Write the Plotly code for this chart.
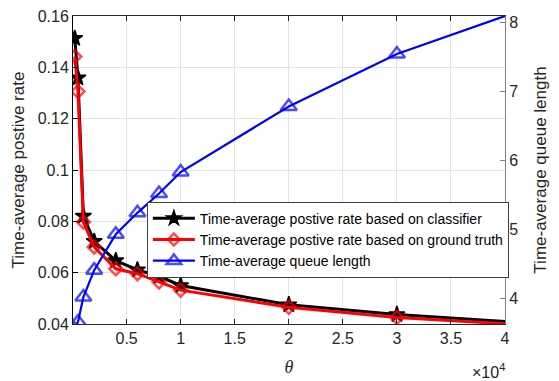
import plotly.graph_objects as go

# ---- data ----
theta = [200, 500, 1000, 2000, 4000, 6000, 8000, 10000, 20000, 30000, 40000]
rate_classifier = [0.1513, 0.1359, 0.0820, 0.0722, 0.0647, 0.0611, 0.0586, 0.0550, 0.0475, 0.0437, 0.0410]
rate_truth = [0.1442, 0.1306, 0.0797, 0.0700, 0.0615, 0.0596, 0.0564, 0.0532, 0.0465, 0.0425, 0.0401]
queue_len = [3.55, 3.66, 4.02, 4.41, 4.93, 5.24, 5.52, 5.83, 6.78, 7.54, 8.09]

x_tick_vals = [5000, 10000, 15000, 20000, 25000, 30000, 35000, 40000]
x_tick_text = ["0.5", "1", "1.5", "2", "2.5", "3", "3.5", "4"]
y_tick_vals = [0.04, 0.06, 0.08, 0.10, 0.12, 0.14, 0.16]
y_tick_text = ["0.04", "0.06", "0.08", "0.1", "0.12", "0.14", "0.16"]
y2_tick_vals = [4, 5, 6, 7, 8]
y2_tick_text = ["4", "5", "6", "7", "8"]

names = [
    "Time-average postive rate based on classifier",
    "Time-average postive rate based on ground truth",
    "Time-average queue length",
]

FONT = "Liberation Sans, Arial, Helvetica, sans-serif"
TXT = "#262626"


def sizes(n, s):
    # markers on every point except the final one at 4e4
    return [s] * (n - 1) + [0]


n = len(theta)
fig = go.Figure()
fig.add_trace(go.Scatter(
    x=theta, y=rate_classifier, name=names[0], mode="lines+markers",
    line=dict(color="black", width=3),
    marker=dict(symbol="star", size=sizes(n, 12), color="black", opacity=1,
                line=dict(color="black", width=1.5)),
    cliponaxis=True,
))
fig.add_trace(go.Scatter(
    x=theta, y=rate_truth, name=names[1], mode="lines+markers",
    line=dict(color="#ff0000", width=3),
    marker=dict(symbol="diamond-open", size=sizes(n, 10), color="#ff0000",
                line=dict(color="#ff0000", width=2.5)),
    cliponaxis=True,
))
fig.add_trace(go.Scatter(
    x=theta, y=queue_len, name=names[2], mode="lines+markers", yaxis="y2",
    line=dict(color="#0000ff", width=2.2),
    marker=dict(symbol="triangle-up-open", size=sizes(n, 14), color="#0000ff",
                line=dict(color="#0000ff", width=2.5)),
    cliponaxis=True,
))

# the page body has an 8px margin, so the figure is 8px smaller than the window
fig.update_layout(
    width=551, height=373,
    margin=dict(l=65, r=54, t=8, b=57),
    paper_bgcolor="white", plot_bgcolor="white",
    font=dict(family=FONT, size=16, color=TXT),
    showlegend=True,
    legend=dict(
        x=0.171, y=0.397, xanchor="left", yanchor="top",
        bgcolor="white", bordercolor="#404040", borderwidth=1,
        font=dict(family=FONT, size=14, color="black"),
        itemwidth=42, tracegroupgap=0,
    ),
    xaxis=dict(
        range=[40, 40000], tickvals=x_tick_vals, ticktext=x_tick_text,
        ticks="inside", ticklen=5, tickcolor=TXT, tickwidth=1,
        showline=True, linecolor=TXT, linewidth=1, mirror="ticks",
        showgrid=True, gridcolor="#e3e3e3", gridwidth=1, zeroline=False,
        tickfont=dict(size=16, color=TXT), ticklabeloverflow="allow",
        title=dict(text="<i>θ</i>", font=dict(family="Liberation Serif, Times New Roman, serif", size=18, color=TXT), standoff=14),
        automargin=False,
    ),
    yaxis=dict(
        range=[0.04, 0.16], tickvals=y_tick_vals, ticktext=y_tick_text,
        ticks="inside", ticklen=5, tickcolor="black", tickwidth=1,
        showline=True, linecolor="black", linewidth=1,
        showgrid=True, gridcolor="#e3e3e3", gridwidth=1, zeroline=False,
        tickfont=dict(size=16, color=TXT), ticklabeloverflow="allow",
        title=dict(text="Time-average postive rate", font=dict(size=17, color=TXT), standoff=8),
        automargin=False,
    ),
    yaxis2=dict(
        overlaying="y", side="right",
        range=[3.63, 8.09], tickvals=y2_tick_vals, ticktext=y2_tick_text,
        ticks="inside", ticklen=5, tickcolor="#808080", tickwidth=1,
        showline=True, linecolor="#808080", linewidth=1,
        showgrid=False, zeroline=False,
        tickfont=dict(size=16, color=TXT), ticklabeloverflow="allow",
        title=dict(text="Time-average queue length", font=dict(size=17, color=TXT), standoff=16),
        automargin=False,
    ),
    annotations=[dict(
        xref="paper", yref="paper", x=1.005, y=-0.153, xanchor="right", yanchor="middle",
        text="×10<sup>4</sup>", showarrow=False, font=dict(size=16, color=TXT),
    )],
)

fig.write_html("out.html")
